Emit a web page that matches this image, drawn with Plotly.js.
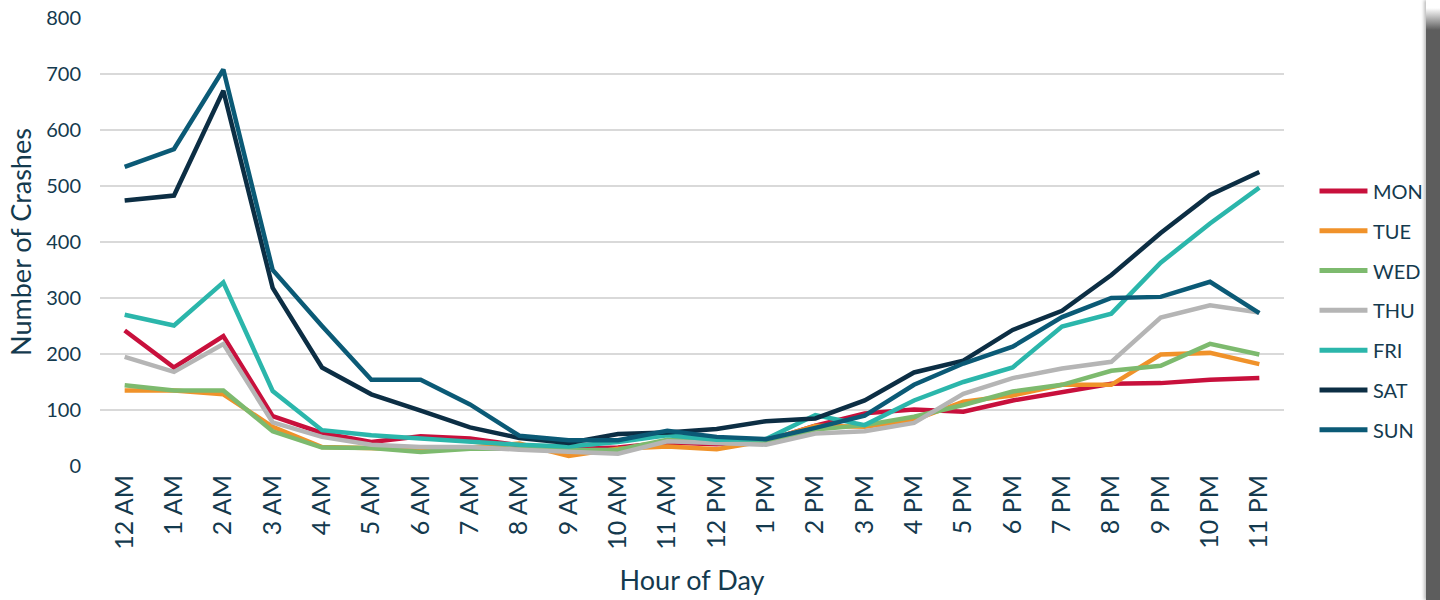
<!DOCTYPE html>
<html>
<head>
<meta charset="utf-8">
<script src="https://cdn.plot.ly/plotly-3.0.1.min.js"></script>
<style>
  html, body { margin: 0; padding: 0; background: #ffffff; }
  #chart { width: 1440px; height: 600px; }
  #edge { position: absolute; left: 1426px; top: 0; width: 14px; height: 600px;
          background: linear-gradient(to bottom, #ffffff 0px, #ffffff 8px, #5d5d5d 30px, #5d5d5d 100%);
          box-shadow: -2px 0 3px rgba(0,0,0,0.25); }
</style>
</head>
<body>
<div id="chart"></div>
<div id="edge"></div>
<script>
const hours = ['12 AM','1 AM','2 AM','3 AM','4 AM','5 AM','6 AM','7 AM','8 AM','9 AM','10 AM','11 AM',
               '12 PM','1 PM','2 PM','3 PM','4 PM','5 PM','6 PM','7 PM','8 PM','9 PM','10 PM','11 PM'];
const days = ['MON','TUE','WED','THU','FRI','SAT','SUN'];
const mon = [242,176,232,89,59,43,53,49,37,30,33,42,39,45,72,94,101,97,117,132,147,148,154,157];
const tue = [135,135,128,70,34,32,30,33,40,18,31,35,30,45,72,70,82,115,126,145,145,199,202,182];
const wed = [144,135,135,62,33,32,25,31,31,28,29,47,44,42,65,73,88,109,133,145,170,179,218,199];
const thu = [195,168,218,78,52,38,34,34,29,26,22,44,41,38,58,62,77,129,157,174,186,265,287,274];
const fri = [270,251,328,134,64,55,49,43,38,35,43,55,47,48,91,73,117,150,176,249,272,363,433,497];
const sat = [474,483,670,318,176,128,99,69,50,41,57,60,66,80,85,117,167,188,243,277,341,416,484,525];
const sun = [534,566,708,350,250,154,154,110,54,46,46,63,52,48,68,90,145,183,213,266,300,302,329,273];
const seriesValues = [mon, tue, wed, thu, fri, sat, sun];
const colors = ['#c8103c','#f0922a','#7dba6e','#b5b5b5','#2bb6ab','#0c2e44','#0b5a76'];

const textColor = '#143a4e';
const fontFamily = 'Lato, "Noto Sans", sans-serif';

const traces = days.map((d, i) => ({
  type: 'scatter', mode: 'lines', name: d,
  x: hours, y: seriesValues[i],
  line: { color: colors[i], width: 4.5 },
  showlegend: false
}));

// Custom legend (long line swatches like the reference), placed in paper coordinates
const legTop = 0.6138, legStep = 0.0888;
const shapes = days.map((d, i) => ({
  type: 'line', xref: 'paper', yref: 'paper',
  x0: 1.030, x1: 1.0705, y0: legTop - i * legStep, y1: legTop - i * legStep,
  line: { color: colors[i], width: 5 }
}));
const annotations = days.map((d, i) => ({
  xref: 'paper', yref: 'paper', x: 1.0735, y: legTop - i * legStep,
  xanchor: 'left', yanchor: 'middle', showarrow: false, text: d,
  font: { size: 20, color: textColor, family: fontFamily }
}));

const layout = {
  width: 1440, height: 600,
  paper_bgcolor: '#ffffff', plot_bgcolor: '#ffffff',
  margin: { l: 100, r: 156, t: 18, b: 134 },
  font: { family: fontFamily, color: textColor, size: 20 },
  showlegend: false,
  shapes: shapes,
  annotations: annotations,
  xaxis: {
    type: 'category', range: [-0.5, 23.5],
    tickangle: -90, showgrid: false, zeroline: false, showline: false,
    ticks: '', ticklabelstandoff: 3,
    tickfont: { size: 25, color: textColor },
    title: { text: 'Hour of Day', font: { size: 27, color: textColor }, standoff: 22 }
  },
  yaxis: {
    range: [0, 800], dtick: 100, showgrid: true, gridcolor: '#d9d9d9', gridwidth: 2,
    zeroline: false, showline: false, ticks: '', ticklabelstandoff: 18,
    tickfont: { size: 20, color: textColor },
    title: { text: 'Number of Crashes', font: { size: 27, color: textColor }, standoff: 6 }
  }
};

Plotly.newPlot('chart', traces, layout, { displayModeBar: false, staticPlot: true });
</script>
</body>
</html>
